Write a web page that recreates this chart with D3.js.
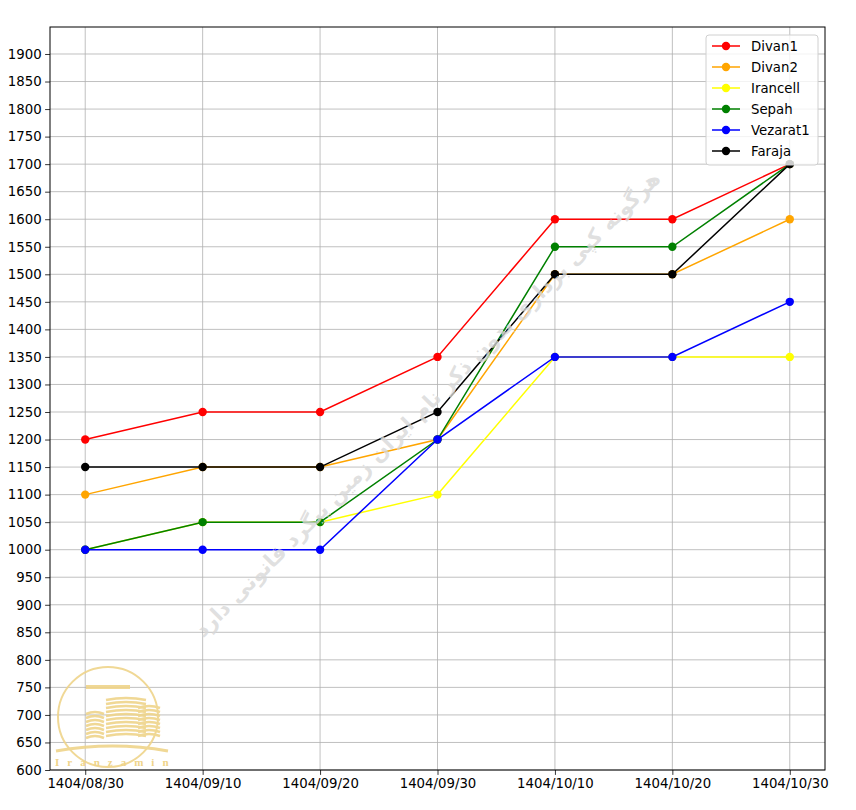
<!DOCTYPE html>
<html>
<head>
<meta charset="utf-8">
<script src="https://cdn.jsdelivr.net/npm/d3@7"></script>
<style>
  body { margin: 0; background: #fff; }
  text { font-family: "DejaVu Sans", sans-serif; }
</style>
</head>
<body>
<div id="chart"></div>
<script>
// data
const dates = ["1404/08/30", "1404/09/10", "1404/09/20", "1404/09/30", "1404/10/10", "1404/10/20", "1404/10/30"];
const seriesNames = ["Divan1", "Divan2", "Irancell", "Sepah", "Vezarat1", "Faraja"];
const seriesColors = ["red", "orange", "yellow", "green", "blue", "black"];
const divan1 = [1200, 1250, 1250, 1350, 1600, 1600, 1700];
const divan2 = [1100, 1150, 1150, 1200, 1500, 1500, 1600];
const irancell = [1000, 1050, 1050, 1100, 1350, 1350, 1350];
const sepah = [1000, 1050, 1050, 1200, 1550, 1550, 1700];
const vezarat1 = [1000, 1000, 1000, 1200, 1350, 1350, 1450];
const faraja = [1150, 1150, 1150, 1250, 1500, 1500, 1700];
const yTicks = d3.range(600, 1901, 50);

const allValues = [divan1, divan2, irancell, sepah, vezarat1, faraja];

const width = 856, height = 810;
const margin = {top: 27, right: 31, bottom: 40, left: 50};
const innerW = width - margin.left - margin.right;
const innerH = height - margin.top - margin.bottom;

const svg = d3.select("#chart").append("svg")
    .attr("width", width)
    .attr("height", height);

const g = svg.append("g")
    .attr("transform", `translate(${margin.left}, ${margin.top})`);

const x = d3.scaleLinear()
    .domain([-0.3, dates.length - 1 + 0.3])
    .range([0, innerW]);

const y = d3.scaleLinear()
    .domain([600, 1949])
    .range([innerH, 0]);

// grid
g.append("g").selectAll("line").data(yTicks).join("line")
    .attr("x1", 0).attr("x2", innerW)
    .attr("y1", d => y(d)).attr("y2", d => y(d))
    .attr("stroke", "#b0b0b0").attr("stroke-width", 0.8);
g.append("g").selectAll("line").data(dates).join("line")
    .attr("x1", (d, i) => x(i)).attr("x2", (d, i) => x(i))
    .attr("y1", 0).attr("y2", innerH)
    .attr("stroke", "#b0b0b0").attr("stroke-width", 0.8);

// watermark text
svg.append("text")
    .attr("transform", "translate(428, 405) rotate(-45)")
    .attr("text-anchor", "middle")
    .attr("dominant-baseline", "middle")
    .style("font-size", "21px")
    .style("font-weight", "bold")
    .attr("fill", "#d8d8d8")
    .attr("fill-opacity", 0.8)
    .text("هرگونه کپی برداری بدون ذکر نام ایران زمین پیگرد قانونی دارد");

// logo watermark (rough)
const logo = svg.append("g").attr("transform", "translate(108, 717)")
    .attr("fill", "none").attr("stroke", "#efd48a").attr("stroke-width", 2).attr("opacity", 0.9);
logo.append("circle").attr("r", 50);
[[-22, -6, 18, 26], [-2, -20, 40, 40], [30, -12, 22, 32]].forEach(b => {
    for (let k = 0; k < b[3]; k += 4) {
        logo.append("path")
            .attr("d", `M${b[0]},${b[1] + k + 3} Q${b[0] + b[2] / 2},${b[1] + k - 1} ${b[0] + b[2]},${b[1] + k + 3}`)
            .attr("stroke-width", 2.5);
    }
});
logo.append("path").attr("d", "M-52,34 Q5,24 60,34").attr("stroke-width", 3);
logo.append("line").attr("x1", -22).attr("x2", 22).attr("y1", -30).attr("y2", -30).attr("stroke-width", 4);
svg.append("text").attr("x", 55).attr("y", 766)
    .attr("fill", "#efd48a").style("font-size", "11px").style("font-weight", "bold")
    .style("font-family", "Liberation Serif, serif")
    .style("letter-spacing", "8px")
    .text("Iranzamin");

// lines and markers
const line = d3.line().x((d, i) => x(i)).y(d => y(d));
allValues.forEach((vals, s) => {
    g.append("path").datum(vals)
        .attr("d", line)
        .attr("fill", "none")
        .attr("stroke", seriesColors[s])
        .attr("stroke-width", 1.5);
    g.append("g").selectAll("circle").data(vals).join("circle")
        .attr("cx", (d, i) => x(i))
        .attr("cy", d => y(d))
        .attr("r", 4.2)
        .attr("fill", seriesColors[s]);
});

// axes
const yAxis = g.append("g")
    .call(d3.axisLeft(y).tickValues(yTicks).tickSize(4.9).tickPadding(3.5).tickFormat(d3.format("d")));
const xAxis = g.append("g")
    .attr("transform", `translate(0, ${innerH})`)
    .call(d3.axisBottom(x).tickValues(d3.range(dates.length)).tickSize(4.9).tickPadding(3.5).tickFormat(i => dates[i]));
[xAxis, yAxis].forEach(a => {
    a.select(".domain").remove();
    a.selectAll("line").attr("stroke", "#000").attr("stroke-width", 0.8);
    a.selectAll("text").style("font-size", "13.3px").style("font-family", "DejaVu Sans").attr("fill", "#000");
});

// frame
g.append("rect").attr("width", innerW).attr("height", innerH)
    .attr("fill", "none").attr("stroke", "#000").attr("stroke-width", 1);

// legend
const lx = 706 - margin.left, ly = 35 - margin.top;
const legend = g.append("g").attr("transform", `translate(${lx}, ${ly})`);
legend.append("rect")
    .attr("width", 112).attr("height", 130).attr("rx", 3)
    .attr("fill", "#fff").attr("fill-opacity", 0.8)
    .attr("stroke", "#d0d0d0").attr("stroke-width", 1);
seriesNames.forEach((name, s) => {
    const row = legend.append("g").attr("transform", `translate(0, ${11 + s * 21})`);
    row.append("line").attr("x1", 6).attr("x2", 34)
        .attr("stroke", seriesColors[s]).attr("stroke-width", 1.5);
    row.append("circle").attr("cx", 20).attr("r", 4.2).attr("fill", seriesColors[s]);
    row.append("text").attr("x", 45).attr("dy", "0.35em")
        .style("font-size", "13.3px").text(name);
});
</script>
</body>
</html>
